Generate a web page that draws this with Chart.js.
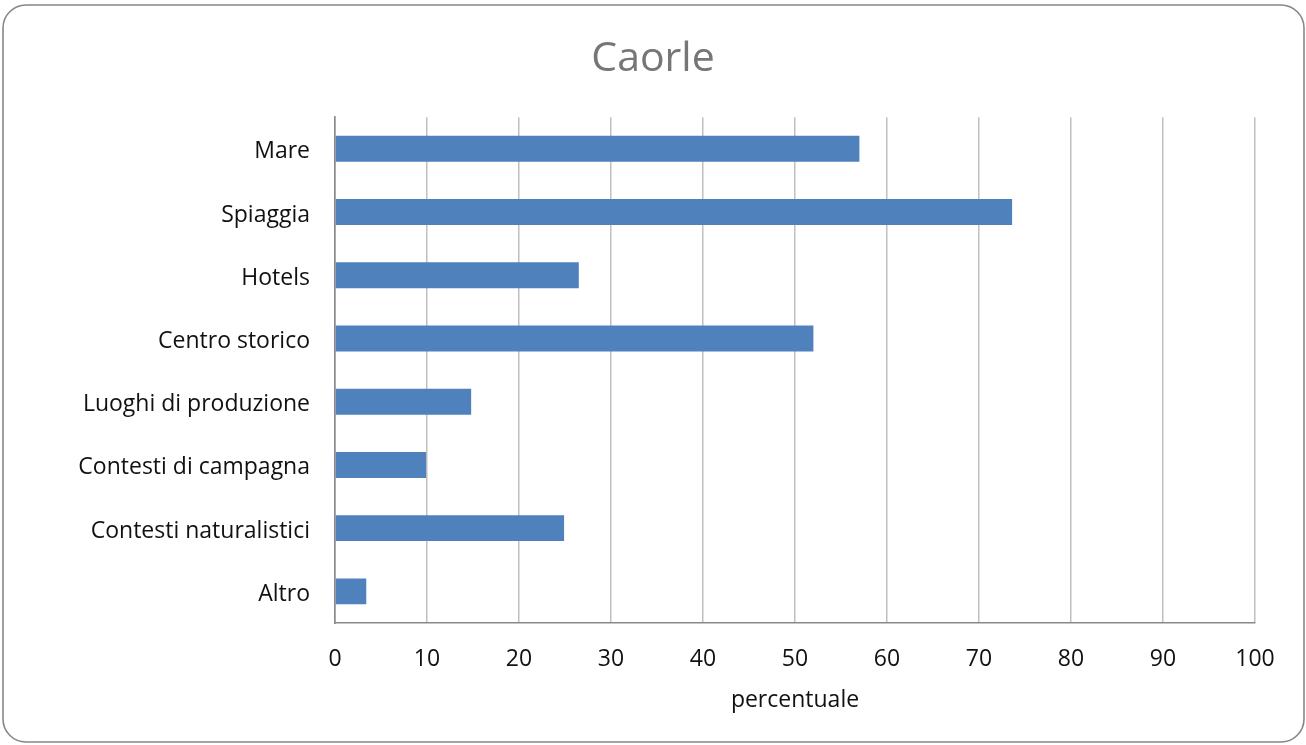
<!DOCTYPE html>
<html>
<head>
<meta charset="utf-8">
<script src="https://cdn.jsdelivr.net/npm/chart.js@4/dist/chart.umd.min.js"></script>
<style>
  html, body { margin: 0; padding: 0; background: #ffffff; }
  #wrap { position: relative; width: 1306px; height: 745px; }
</style>
</head>
<body>
<div id="wrap"><canvas id="chart" width="1306" height="745"></canvas></div>
<script>
// Caorle: percentuale per ciascuna categoria
const categories = [
  'Mare', 'Spiaggia', 'Hotels', 'Centro storico',
  'Luoghi di produzione', 'Contesti di campagna',
  'Contesti naturalistici', 'Altro'
];
const values = [57, 73.6, 26.5, 52, 14.8, 9.9, 24.9, 3.4];
const chartTitle = 'Caorle';
const axisTitle = 'percentuale';
const xMin = 0, xMax = 100, xStep = 10;

const FONT = '"Open Sans", "Noto Sans", sans-serif';

// rounded outer frame around the whole chart
const framePlugin = {
  id: 'frame',
  afterDraw(chart) {
    const ctx = chart.ctx;
    const x = 3, y = 5, w = 1301, h = 737, r = 23;
    ctx.save();
    ctx.strokeStyle = '#878787';
    ctx.lineWidth = 1.6;
    ctx.beginPath();
    ctx.moveTo(x + r, y);
    ctx.lineTo(x + w - r, y);
    ctx.arcTo(x + w, y, x + w, y + r, r);
    ctx.lineTo(x + w, y + h - r);
    ctx.arcTo(x + w, y + h, x + w - r, y + h, r);
    ctx.lineTo(x + r, y + h);
    ctx.arcTo(x, y + h, x, y + h - r, r);
    ctx.lineTo(x, y + r);
    ctx.arcTo(x, y, x + r, y, r);
    ctx.closePath();
    ctx.stroke();
    ctx.restore();
  }
};

new Chart(document.getElementById('chart'), {
  type: 'bar',
  data: {
    labels: categories,
    datasets: [{
      data: values,
      backgroundColor: '#4f81bd',
      borderWidth: 0,
      barPercentage: 0.41,
      categoryPercentage: 1
    }]
  },
  options: {
    indexAxis: 'y',
    responsive: false,
    animation: false,
    devicePixelRatio: 1,
    layout: { padding: 0 },
    plugins: {
      legend: { display: false },
      tooltip: { enabled: false },
      title: {
        display: true,
        text: chartTitle,
        color: '#767676',
        font: { family: FONT, size: 41, weight: 'normal' },
        padding: { top: 35, bottom: 33 }
      }
    },
    scales: {
      x: {
        type: 'linear',
        min: xMin,
        max: xMax,
        afterFit(scale) { scale.height = 122; },
        ticks: {
          stepSize: xStep,
          color: '#111111',
          font: { family: FONT, size: 23 },
          padding: 23
        },
        grid: {
          color: '#bfbfbf',
          lineWidth: 1.5,
          drawTicks: false
        },
        border: { display: true, color: '#888888', width: 1.6 },
        title: {
          display: true,
          text: axisTitle,
          color: '#111111',
          font: { family: FONT, size: 23 },
          padding: { top: 0, bottom: 31 }
        }
      },
      y: {
        type: 'category',
        afterFit(scale) { scale.width = 335; },
        ticks: {
          color: '#111111',
          font: { family: FONT, size: 23 },
          padding: 25,
          labelOffset: 3
        },
        grid: { display: false, drawTicks: false },
        border: { display: true, color: '#888888', width: 1.6 }
      },
      // empty right-hand margin so the plot stops short of the frame
      yRight: {
        type: 'category',
        position: 'right',
        afterFit(scale) { scale.width = 51; },
        ticks: { display: false },
        grid: { display: false, drawTicks: false },
        border: { display: false }
      }
    }
  },
  plugins: [framePlugin]
});
</script>
</body>
</html>
